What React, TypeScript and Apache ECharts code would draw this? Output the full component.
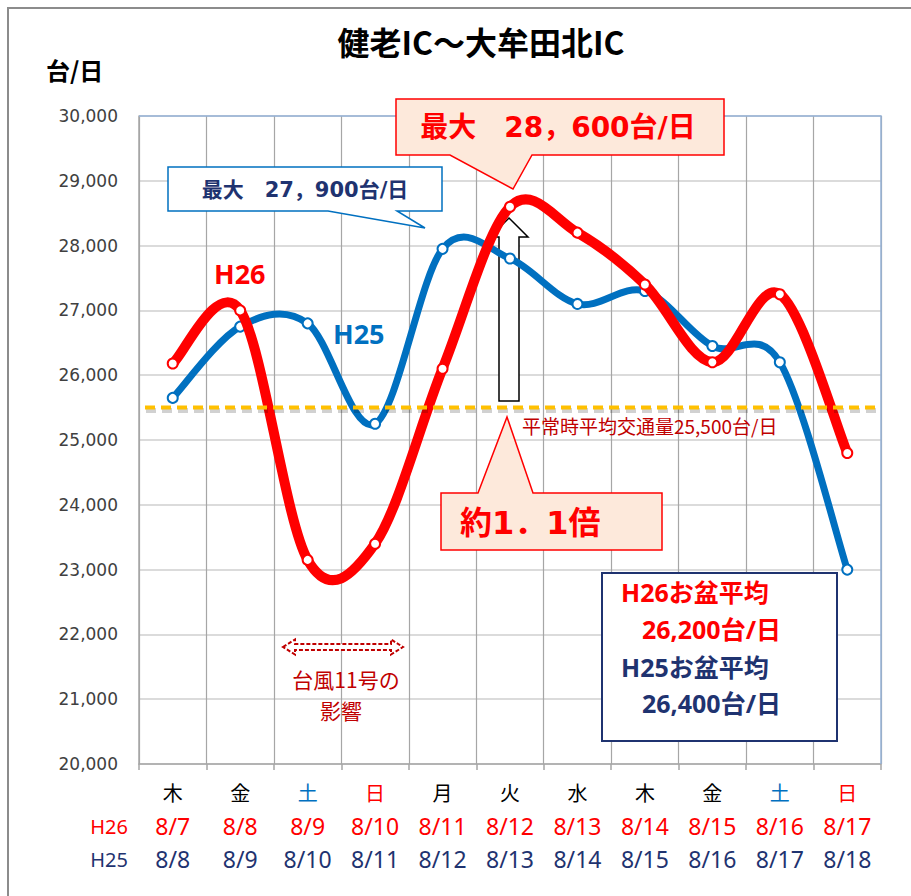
import React, { useEffect, useRef } from "react";
import * as echarts from "echarts";

const weekdays = ["木", "金", "土", "日", "月", "火", "水", "木", "金", "土", "日"];
const datesH26 = ["8/7", "8/8", "8/9", "8/10", "8/11", "8/12", "8/13", "8/14", "8/15", "8/16", "8/17"];
const datesH25 = ["8/8", "8/9", "8/10", "8/11", "8/12", "8/13", "8/14", "8/15", "8/16", "8/17", "8/18"];
const valuesH26 = [26180, 27000, 23150, 23400, 26100, 28600, 28200, 27400, 26200, 27250, 24800];
const valuesH25 = [25650, 26750, 26800, 25250, 27950, 27800, 27100, 27300, 26450, 26200, 23000];
const averageValue = 25500;
const yMin = 20000;
const yMax = 30000;
const yInterval = 1000;

const RED = "#FF0000";
const BLUE = "#0070C0";
const NAVY = "#1F3370";
const DARKRED = "#C00000";
const PEACH = "#FDE9DB";
const CJK = "'Noto Sans CJK JP'";
const MIX = "'DejaVu Sans','Noto Sans CJK JP'";
const LAT = "'Noto Sans','Noto Sans CJK JP'";

const GL = 139, GT = 116, GR = 881, GB = 764;

function txt(text: string, x: number, y: number, o: any = {}) {
  return {
    type: "text",
    x,
    y,
    z: o.z ?? 100,
    style: {
      text,
      fill: o.fill ?? "#000",
      fontSize: o.size ?? 16,
      fontWeight: o.weight ?? "normal",
      fontFamily: o.family ?? CJK,
      align: o.align ?? "left",
      verticalAlign: "middle",
    },
  };
}

function poly(points: number[][], style: any, z = 100) {
  return { type: "polygon", z, shape: { points }, style };
}

// Smooth curve (Catmull-Rom through the points), like a spreadsheet's smoothed line
function smoothPath(pts: number[][]) {
  let d = `M${pts[0][0]},${pts[0][1]}`;
  for (let i = 0; i < pts.length - 1; i++) {
    const p0 = pts[i - 1] || pts[i];
    const p1 = pts[i];
    const p2 = pts[i + 1];
    const p3 = pts[i + 2] || pts[i + 1];
    const c1x = p1[0] + (p2[0] - p0[0]) / 6;
    const c1y = p1[1] + (p2[1] - p0[1]) / 6;
    const c2x = p2[0] - (p3[0] - p1[0]) / 6;
    const c2y = p2[1] - (p3[1] - p1[1]) / 6;
    d += ` C${c1x},${c1y} ${c2x},${c2y} ${p2[0]},${p2[1]}`;
  }
  return d;
}

function curveSeries(values: number[], color: string, width: number, z: number) {
  return {
    type: "custom",
    z,
    silent: true,
    data: values.map((v, i) => [i, v]),
    encode: { x: 0, y: 1 },
    renderItem: (params: any, api: any) => {
      if (params.dataIndex !== 0) return null;
      const pts = values.map((v, i) => api.coord([i, v]));
      return {
        type: "path",
        shape: { pathData: smoothPath(pts) },
        style: { stroke: color, lineWidth: width, fill: "none", lineCap: "round", lineJoin: "round" },
      };
    },
  };
}

function markerSeries(name: string, values: number[], color: string, z: number) {
  return {
    name,
    type: "line",
    data: values,
    z,
    symbol: "circle",
    symbolSize: 10,
    lineStyle: { opacity: 0, width: 0 },
    itemStyle: { color: "#fff", borderColor: color, borderWidth: 2 },
  };
}

const averageSeries = {
  type: "custom",
  z: 8,
  silent: true,
  data: [[0, averageValue]],
  encode: { x: 0, y: 1 },
  renderItem: (params: any, api: any) => {
    const cs = params.coordSys;
    const y = api.coord([0, api.value(1)])[1];
    const x1 = cs.x + 6;
    const x2 = cs.x + cs.width - 5;
    return {
      type: "group",
      children: [
        {
          type: "line",
          shape: { x1: x1 + 1, y1: y + 3, x2: x2 + 1, y2: y + 3 },
          style: { stroke: "rgba(0,0,0,0.18)", lineWidth: 5, lineDash: [10, 6] },
        },
        {
          type: "line",
          shape: { x1, y1: y, x2, y2: y },
          style: { stroke: "#FFC000", lineWidth: 4, lineDash: [10, 6] },
        },
      ],
    };
  },
};

export default function App() {
  const ref = useRef<HTMLDivElement>(null);
  useEffect(() => {
    if (!ref.current) return;
    const chart = echarts.init(ref.current, undefined, { renderer: "svg" });
    const dayKey = (d: string) => (d === "土" ? "s" : d === "日" ? "u" : "k");
    const lineH = 33;
    chart.setOption({
      animation: false,
      backgroundColor: "#fff",
      grid: { left: GL, top: GT, width: GR - GL, height: GB - GT, containLabel: false },
      xAxis: {
        type: "category",
        data: datesH26,
        boundaryGap: true,
        axisLine: { show: true, lineStyle: { color: "#A6A6A6", width: 1.5 } },
        axisTick: { show: true, length: 6, lineStyle: { color: "#A6A6A6", width: 1.5 } },
        splitLine: { show: true, lineStyle: { color: "#A6A6A6", width: 1.2 } },
        axisLabel: {
          interval: 0,
          margin: 12,
          formatter: (_v: string, i: number) =>
            `{${dayKey(weekdays[i])}|${weekdays[i]}}\n{a|${datesH26[i]}}\n{b|${datesH25[i]}}`,
          rich: {
            k: { color: "#000", fontSize: 20, fontFamily: CJK, lineHeight: lineH },
            s: { color: BLUE, fontSize: 20, fontFamily: CJK, lineHeight: lineH },
            u: { color: RED, fontSize: 20, fontFamily: CJK, lineHeight: lineH },
            a: { color: RED, fontSize: 23, fontFamily: "'Noto Sans'", lineHeight: lineH },
            b: { color: NAVY, fontSize: 23, fontFamily: "'Noto Sans'", lineHeight: lineH },
          },
        },
      },
      yAxis: {
        type: "value",
        min: yMin,
        max: yMax,
        interval: yInterval,
        axisLine: { show: true, lineStyle: { color: "#A6A6A6", width: 1.5 } },
        axisTick: { show: false },
        splitLine: { show: true, lineStyle: { color: "#CFCFCF", width: 1.5 } },
        axisLabel: {
          margin: 21,
          color: "#404040",
          fontSize: 17,
          fontFamily: "'DejaVu Sans'",
          formatter: (v: number) => v.toLocaleString("en-US"),
        },
      },
      series: [
        curveSeries(valuesH25, BLUE, 7, 3),
        markerSeries("H25", valuesH25, BLUE, 4),
        curveSeries(valuesH26, RED, 10, 5),
        markerSeries("H26", valuesH26, RED, 6),
        averageSeries,
      ],
      graphic: [
        // outer frame
        { type: "polyline", z: 100, shape: { points: [[8, 896], [8, 8], [911, 8]] }, style: { stroke: "#8C8C8C", lineWidth: 2, fill: null } },
        // plot area border (top/right)
        { type: "polyline", z: 1, shape: { points: [[GL, GT], [GR, GT], [GR, GB]] }, style: { stroke: "#95B3D7", lineWidth: 1.5, fill: null } },
        txt("健老IC～大牟田北IC", 481, 41, { size: 32, weight: "bold", align: "center" }),
        txt("台/日", 46, 69, { size: 24, weight: "bold" }),
        // red max callout
        poly([[396, 99], [724, 99], [724, 155], [532, 155], [513, 189], [450, 155], [396, 155]], { fill: PEACH, stroke: RED, lineWidth: 1.5 }),
        txt("最大　28，600台/日", 558, 127, { size: 28, weight: "bold", fill: RED, family: MIX, align: "center" }),
        // blue max callout
        poly([[168, 167], [442, 167], [442, 211], [397, 211], [425, 228], [328, 211], [168, 211]], { fill: "#fff", stroke: BLUE, lineWidth: 1.5 }),
        txt("最大　27，900台/日", 305, 190, { size: 21, weight: "bold", fill: NAVY, family: MIX, align: "center" }),
        // hollow up arrow
        poly([[509, 218], [528, 237], [519, 237], [519, 401], [499, 401], [499, 237], [490, 237]], { fill: "#fff", stroke: "#000", lineWidth: 1.5 }, 1),
        // ratio callout
        poly([[441, 493], [478, 493], [507, 417], [533, 493], [662, 493], [662, 550], [441, 550]], { fill: PEACH, stroke: RED, lineWidth: 1.5 }),
        txt("約1．1倍", 460, 523, { size: 32, weight: "bold", fill: RED, family: MIX }),
        // average label
        txt("平常時平均交通量25,500台/日", 522, 425, { size: 19, fill: DARKRED }),
        // series labels
        txt("H26", 214, 273, { size: 27, weight: "bold", fill: RED, family: LAT }),
        txt("H25", 333, 333, { size: 27, weight: "bold", fill: BLUE, family: LAT }),
        // typhoon note
        poly(
          [[283, 647], [295, 639.5], [295, 644], [391, 644], [391, 639.5], [403, 647], [391, 654.5], [391, 650], [295, 650], [295, 654.5]],
          { fill: "#fff", stroke: DARKRED, lineWidth: 2, lineDash: [4, 2] }
        ),
        txt("台風11号の", 346, 679, { size: 21, fill: DARKRED, align: "center" }),
        txt("影響", 341, 710, { size: 21, fill: DARKRED, align: "center" }),
        // summary box
        { type: "rect", z: 100, shape: { x: 602, y: 573, width: 235, height: 168 }, style: { fill: "#fff", stroke: NAVY, lineWidth: 2 } },
        txt("H26お盆平均", 621, 592, { size: 25, weight: "bold", fill: RED, family: LAT }),
        txt("26,200台/日", 642, 629, { size: 25, weight: "bold", fill: RED, family: LAT }),
        txt("H25お盆平均", 621, 667, { size: 25, weight: "bold", fill: NAVY, family: LAT }),
        txt("26,400台/日", 642, 703, { size: 25, weight: "bold", fill: NAVY, family: LAT }),
        // row labels under x axis
        txt("H26", 128, 826, { size: 20, fill: RED, family: "'Noto Sans'", align: "right" }),
        txt("H25", 128, 859, { size: 20, fill: NAVY, family: "'Noto Sans'", align: "right" }),
      ],
    });
    return () => chart.dispose();
  }, []);
  return (
    <div
      ref={ref}
      style={{ position: "absolute", left: 0, top: 0, width: 911, height: 896, background: "#fff" }}
    />
  );
}
